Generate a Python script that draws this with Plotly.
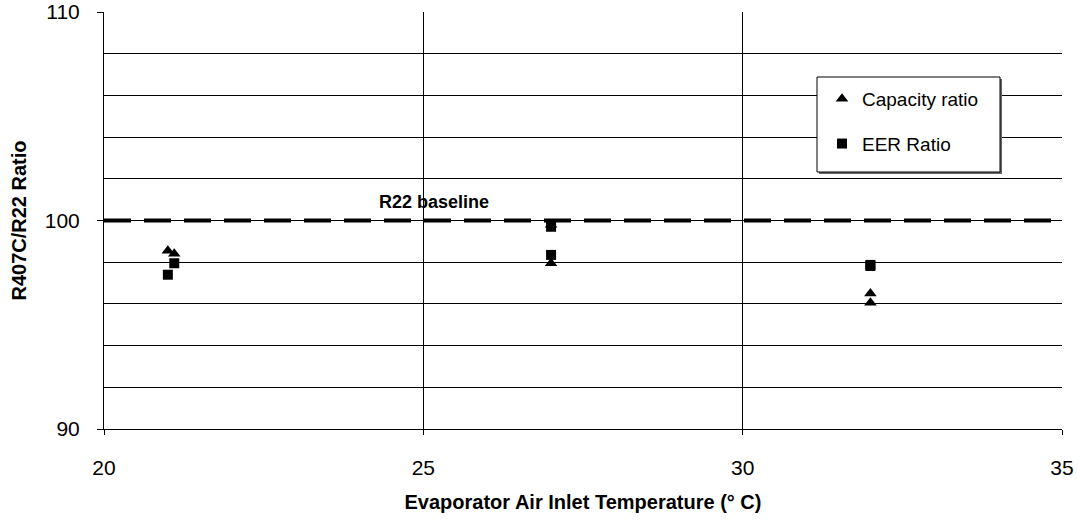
import plotly.graph_objects as go

# Data
temps_capacity = [21.0, 21.1, 27.0, 27.0, 32.0, 32.0]
capacity_ratio = [98.55, 98.4, 99.8, 97.95, 96.5, 96.05]
temps_eer = [21.0, 21.1, 27.0, 27.0, 32.0, 32.0]
eer_ratio = [97.4, 97.95, 99.7, 98.35, 97.87, 97.82]
baseline_x = [20, 35]
baseline_y = [100, 100]
x_ticks = [20, 25, 30, 35]
y_ticks = [90, 100, 110]

FONT = "Liberation Sans, Arial, sans-serif"

L, R, T, B = 104, 1062, 12, 429
W, H = R - L, B - T


def px(xp):
    return (xp - L) / W


def py(yp):
    return 1 - (yp - T) / H


fig = go.Figure()

fig.add_trace(go.Scatter(
    x=baseline_x, y=baseline_y, mode="lines",
    line=dict(color="black", width=4, dash="27px,13px"),
    showlegend=False, hoverinfo="skip"))

fig.add_trace(go.Scatter(
    x=temps_capacity, y=capacity_ratio, mode="markers", name="Capacity ratio",
    legendgroup="cap",
    marker=dict(symbol="triangle-up", size=11, color="black")))

fig.add_trace(go.Scatter(
    x=temps_eer, y=eer_ratio, mode="markers", name="EER Ratio",
    legendgroup="eer",
    marker=dict(symbol="square", size=10, color="black")))

fig.add_annotation(x=25.17, y=100.9, text="<b>R22 baseline</b>", showarrow=False,
                   font=dict(family=FONT, size=18, color="black"))

# legend box with shadow
fig.add_shape(type="rect", xref="paper", yref="paper",
              x0=px(819), x1=px(1002), y0=py(174), y1=py(79),
              fillcolor="#666666", line=dict(width=0), layer="above")
fig.add_shape(type="rect", xref="paper", yref="paper",
              x0=px(817), x1=px(1000), y0=py(172), y1=py(77),
              fillcolor="white", line=dict(color="black", width=1), layer="above")

fig.update_layout(
    width=1077, height=522,
    margin=dict(l=L, r=1077 - R, t=T, b=522 - B),
    paper_bgcolor="white", plot_bgcolor="white",
    font=dict(family=FONT, color="black"),
    legend=dict(x=px(822), y=py(80), xanchor="left", yanchor="top",
                bgcolor="rgba(0,0,0,0)", borderwidth=0,
                font=dict(family=FONT, size=19, color="black"),
                tracegroupgap=17, itemwidth=30),
    xaxis=dict(range=[20, 35], tickvals=x_ticks, showgrid=True, gridcolor="black", gridwidth=1,
               showline=True, linecolor="black", linewidth=1, mirror=False,
               ticks="outside", ticklen=5, tickcolor="black",
               tickfont=dict(family=FONT, size=21), ticklabelstandoff=15,
               zeroline=False, automargin=False,
               title=dict(text="<b>Evaporator Air Inlet Temperature (° C)</b>",
                          font=dict(family=FONT, size=20), standoff=16)),
    yaxis=dict(range=[90, 110], tickvals=y_ticks, showgrid=True, gridcolor="black", gridwidth=1,
               minor=dict(dtick=2, tick0=90, showgrid=True, gridcolor="black", gridwidth=1),
               showline=True, linecolor="black", linewidth=1,
               ticks="outside", ticklen=6, tickcolor="black",
               tickfont=dict(family=FONT, size=21), ticklabelstandoff=13,
               zeroline=False, automargin=False,
               title=dict(text="<b>R407C/R22 Ratio</b>", font=dict(family=FONT, size=20), standoff=12)),
)

fig.write_html("out.html")
